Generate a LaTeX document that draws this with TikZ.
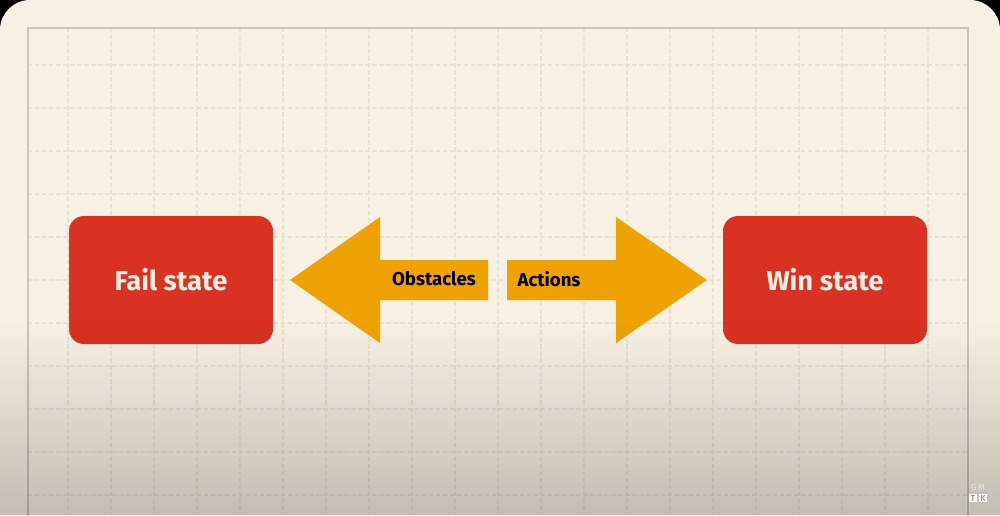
\documentclass[tikz,border=0pt]{standalone}
\usepackage{fontspec}
\setmainfont{Fira Sans}
\usetikzlibrary{fadings}

\definecolor{card}{HTML}{F6F1E3}
\definecolor{frameline}{HTML}{CCC5B3}
\definecolor{gridline}{HTML}{EAE2D1}
\definecolor{statered}{HTML}{D93222}
\definecolor{arroworange}{HTML}{EFA203}
\definecolor{statetext}{HTML}{F8EFE1}

\tikzset{
	state/.style = {fill=statered, rounded corners=15*0.02cm, minimum width=204*0.02cm, minimum height=128*0.02cm,
		text=statetext, font=\fontsize{15.6}{18}\selectfont\bfseries},
	arrowlabel/.style = {text=black, font=\fontsize{10.6}{12}\selectfont\bfseries, inner sep=0pt},
	bigarrow/.style = {fill=arroworange}
}

\begin{document}
\begin{tikzpicture}[x=0.02cm, y=-0.02cm]
		\useasboundingbox (0,0) rectangle (1000,515);
		\fill[black] (0,0) rectangle (1000,515);
		\fill[card, rounded corners=30*0.02cm] (0,0) rectangle (1000,560);

		% grid
		\foreach \x in {68,111,...,930}
			\draw[gridline, line width=0.8pt, dash pattern=on 2.5pt off 1.5pt] (\x,28) -- (\x,515);
		\foreach \y in {65,108,...,500}
			\draw[gridline, line width=0.8pt, dash pattern=on 2.5pt off 1.5pt] (28,\y) -- (968,\y);
		\draw[frameline, line width=1.6pt] (28,530) -- (28,28) -- (968,28) -- (968,530);

		\draw (171,280) node[state] (fail) {Fail state};
		\draw (825,280) node[state] (win) {Win state};

		\fill[bigarrow] (290,280) -- (380,217) -- (380,260) -- (488,260) -- (488,300) -- (380,300) -- (380,343) -- cycle;
		\fill[bigarrow] (707,280) -- (616,217) -- (616,260) -- (507,260) -- (507,300) -- (616,300) -- (616,343) -- cycle;

		\draw (434,279) node[arrowlabel] (obst) {Obstacles};
		\draw (549,279) node[arrowlabel] (act) {Actions};

		% shadow toward the bottom
		\fill[black, opacity=0.21, path fading=north] (0,320) rectangle (1000,515);

		% logo
		\draw (978,487) node[text=white!80!gray, font=\fontsize{5}{5}\selectfont, inner sep=0pt] (logotop) {G\,M};
		\draw (973,498) node[fill=white!92!gray, minimum size=8*0.02cm, inner sep=0pt, text=gray, font=\fontsize{5}{5}\selectfont] (logot) {T};
		\draw (983,498) node[fill=white!92!gray, minimum size=8*0.02cm, inner sep=0pt, text=gray, font=\fontsize{5}{5}\selectfont] (logok) {K};
	\end{tikzpicture}
\end{document}
